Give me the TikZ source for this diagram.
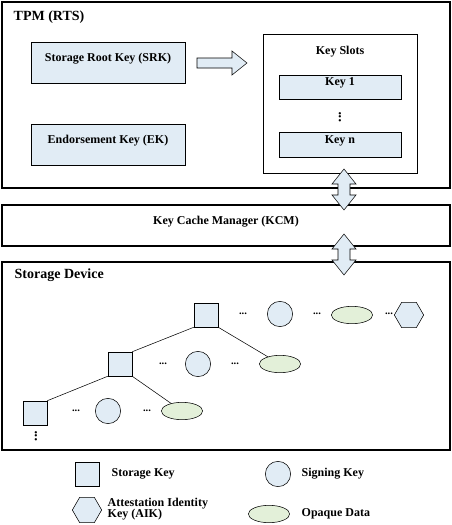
\documentclass[tikz,border=0pt]{standalone}
\usepackage{fontspec}
\setmainfont{Liberation Serif}
\usetikzlibrary{positioning,shapes.geometric,fit}
\definecolor{keyAzul}{HTML}{E1ECF5}
\definecolor{dataVerde}{HTML}{E3F0D9}

\begin{document}
\begin{tikzpicture}[x=0.75pt, y=-0.75pt, font=\fontsize{9}{10}\selectfont\bfseries, every node/.style={align=center},
    frame/.style={draw, line width=1.4pt, inner sep=0pt},
    title/.style={anchor=west, font=\fontsize{10.5}{12}\selectfont\bfseries},
    keybox/.style={draw, fill=keyAzul, line width=0.4pt, inner sep=0pt},
    storekey/.style={draw, fill=keyAzul, line width=0.4pt, minimum size=18pt, inner sep=0pt},
    signkey/.style={circle, draw, fill=keyAzul, line width=0.4pt, minimum size=19pt, inner sep=0pt},
    aikkey/.style={regular polygon, regular polygon sides=6, draw, fill=keyAzul, line width=0.4pt, minimum size=22pt, inner sep=0pt},
    opaque/.style={ellipse, draw, fill=dataVerde, line width=0.4pt, minimum width=31pt, minimum height=13pt, inner sep=0pt},
    gap/.style={font=\fontsize{8}{9}\selectfont\bfseries, inner sep=0pt},
    vgap/.style={font=\fontsize{10.5}{12}\selectfont\bfseries, inner sep=0pt, rotate=90},
    blockarrow/.style={draw, fill=keyAzul, line width=0.4pt, line join=miter},
    edge/.style={line width=0.4pt}]
    \useasboundingbox (0,0) rectangle (452,525);
    % TPM
    \node[frame, fit={(2,2) (450,188)}] (tpm) {};
    \node[title] (tpmtitle) at (9,17) {TPM (RTS)};
    \node[keybox, fit={(31,42) (185,83)}] (srk) {Storage Root Key (SRK)};
    \node[keybox, fit={(31,124) (185,165)}] (ek) {Endorsement Key (EK)};
    \node[draw, fill=white, line width=0.4pt, inner sep=0pt, fit={(263,34) (417,173)}] (slots) {};
    \node (slotstitle) at (340,52) {Key Slots};
    \node[keybox, fit={(279,75) (401,99)}] (key1) {Key 1};
    \node[vgap] (slotdots) at (340,117) {...};
    \node[keybox, fit={(279,132) (401,157)}] (keyn) {Key n};
    % KCM and storage
    \node[frame, fit={(2,205) (450,246)}] (kcm) {Key Cache Manager (KCM)};
    \node[frame, fit={(2,262) (450,450)}] (storage) {};
    \node[title] (storagetitle) at (10,275) {Storage Device};
    % block arrows
    \draw[blockarrow] (197,58) -- (232,58) -- (232,51) -- (247,63) -- (232,75) -- (232,68) -- (197,68) -- cycle;
    \draw[blockarrow] (344,169) -- (356,184) -- (350,184) -- (350,195) -- (356,195) -- (344,210)
      -- (332,195) -- (338,195) -- (338,184) -- (332,184) -- cycle;
    \draw[blockarrow] (344,234) -- (356,249) -- (350,249) -- (350,260) -- (356,260) -- (344,275)
      -- (332,260) -- (338,260) -- (338,249) -- (332,249) -- cycle;
    % key tree
    \node[storekey] (sk1) at (206,315) {};
    \node[gap] (d1) at (243,314) {...};
    \node[signkey] (sg1) at (280,314) {};
    \node[gap] (d2) at (317,314) {...};
    \node[opaque] (od1) at (352,315) {};
    \node[gap] (d3) at (389,314) {...};
    \node[aikkey] (aik1) at (409,315) {};
    \node[storekey] (sk2) at (120,364) {};
    \node[gap] (d4) at (163,364) {...};
    \node[signkey] (sg2) at (198,364) {};
    \node[gap] (d5) at (235,364) {...};
    \node[opaque] (od2) at (280,364) {};
    \node[storekey] (sk3) at (35,413) {};
    \node[gap] (d6) at (76,411) {...};
    \node[signkey] (sg3) at (108,411) {};
    \node[gap] (d7) at (147,411) {...};
    \node[opaque] (od3) at (182,411) {};
    \node[vgap] (skdots) at (36,436) {...};
    \draw[edge] (sk1.south west) -- (sk2.north east);
    \draw[edge] (sk1.south east) -- (od2);
    \draw[edge] (sk2.south west) -- (sk3.north east);
    \draw[edge] (sk2.south east) -- (od3);
    % legend
    \node[storekey] (lgsk) at (87,474) {};
    \node[anchor=west] (lgsktext) at (107,474) {Storage Key};
    \node[signkey] (lgsg) at (278,474) {};
    \node[anchor=west] (lgsgtext) at (297,474) {Signing Key};
    \node[aikkey] (lgaik) at (87,510) {};
    \node[anchor=west, align=left] (lgaiktext) at (103,509) {Attestation Identity\\[-2pt]Key (AIK)};
    \node[opaque] (lgod) at (269,514) {};
    \node[anchor=west] (lgodtext) at (297,514) {Opaque Data};
\end{tikzpicture}
\end{document}
